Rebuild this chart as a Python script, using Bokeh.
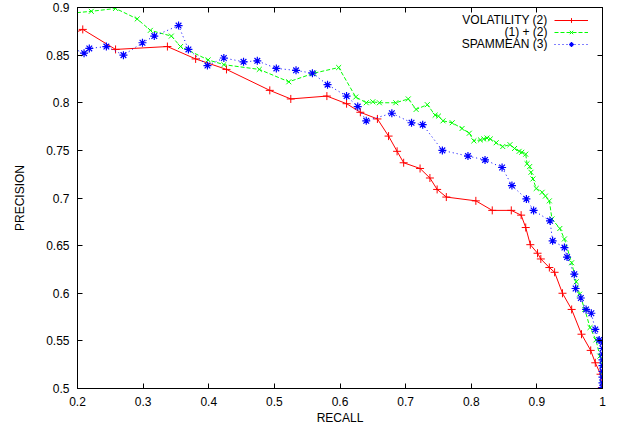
from bokeh.plotting import figure
from bokeh.models import Range1d, LinearAxis, FixedTicker, Legend, LegendItem, Label
from bokeh.embed import file_html
from bokeh.resources import INLINE

# ---- data ----
vol_recall = [0.190, 0.208, 0.258, 0.337, 0.380, 0.427, 0.493, 0.525, 0.580, 0.610,
              0.631, 0.657, 0.674, 0.687, 0.697, 0.722, 0.737, 0.748, 0.762, 0.807,
              0.832, 0.861, 0.876, 0.883, 0.890, 0.901, 0.906, 0.919, 0.927, 0.939,
              0.953, 0.968, 0.982, 0.989, 0.997, 0.999]
vol_precision = [0.872, 0.877, 0.856, 0.859, 0.846, 0.835, 0.813, 0.804, 0.807, 0.799,
                 0.790, 0.783, 0.765, 0.749, 0.737, 0.731, 0.721, 0.709, 0.701, 0.697,
                 0.687, 0.687, 0.682, 0.669, 0.651, 0.642, 0.636, 0.627, 0.622, 0.600,
                 0.583, 0.557, 0.540, 0.527, 0.515, 0.501]

comb_recall = [0.190, 0.221, 0.258, 0.291, 0.311, 0.343, 0.357, 0.399, 0.423, 0.477,
               0.522, 0.560, 0.598, 0.624, 0.640, 0.650, 0.660, 0.685, 0.704, 0.716,
               0.733, 0.745, 0.750, 0.757, 0.771, 0.786, 0.797, 0.804, 0.814, 0.819,
               0.824, 0.829, 0.838, 0.848, 0.859, 0.866, 0.873, 0.877, 0.883, 0.885,
               0.889, 0.891, 0.894, 0.899, 0.908, 0.913, 0.919, 0.923, 0.935, 0.942,
               0.953, 0.960, 0.965, 0.973, 0.981, 0.990, 0.996, 1.000, 1.000, 1.000]
comb_precision = [0.894, 0.896, 0.899, 0.888, 0.876, 0.870, 0.859, 0.845, 0.840, 0.835,
                  0.822, 0.831, 0.837, 0.806, 0.800, 0.801, 0.800, 0.800, 0.804, 0.793,
                  0.798, 0.787, 0.786, 0.781, 0.779, 0.773, 0.768, 0.760, 0.761, 0.762,
                  0.763, 0.762, 0.758, 0.754, 0.756, 0.752, 0.749, 0.748, 0.746, 0.736,
                  0.733, 0.727, 0.720, 0.710, 0.706, 0.702, 0.697, 0.678, 0.668, 0.657,
                  0.632, 0.612, 0.599, 0.583, 0.564, 0.551, 0.534, 0.525, 0.515, 0.505]

spam_recall = [0.190, 0.210, 0.218, 0.244, 0.270, 0.299, 0.317, 0.354, 0.369, 0.398,
               0.423, 0.453, 0.474, 0.503, 0.533, 0.558, 0.581, 0.610, 0.627, 0.640,
               0.679, 0.709, 0.726, 0.756, 0.795, 0.821, 0.847, 0.862, 0.884, 0.895,
               0.920, 0.924, 0.942, 0.946, 0.957, 0.959, 0.967, 0.975, 0.983, 0.989,
               0.995, 1.000, 1.000, 1.000, 1.000, 1.000, 1.000, 1.000, 1.000, 1.000]
spam_precision = [0.858, 0.852, 0.857, 0.859, 0.850, 0.863, 0.870, 0.881, 0.856, 0.839,
                  0.847, 0.843, 0.844, 0.836, 0.834, 0.831, 0.819, 0.807, 0.796, 0.781,
                  0.789, 0.779, 0.777, 0.750, 0.744, 0.740, 0.732, 0.713, 0.699, 0.687,
                  0.676, 0.655, 0.648, 0.638, 0.620, 0.605, 0.595, 0.583, 0.579, 0.562,
                  0.551, 0.548, 0.542, 0.536, 0.530, 0.524, 0.518, 0.512, 0.506, 0.501]

series_names = ["VOLATILITY (2)", "(1) + (2)", "SPAMMEAN (3)"]

x_ticks = [0.2, 0.3, 0.4, 0.5, 0.6, 0.7, 0.8, 0.9, 1.0]
x_tick_labels = ["0.2", "0.3", "0.4", "0.5", "0.6", "0.7", "0.8", "0.9", "1"]
y_ticks = [0.5, 0.55, 0.6, 0.65, 0.7, 0.75, 0.8, 0.85, 0.9]
y_tick_labels = ["0.5", "0.55", "0.6", "0.65", "0.7", "0.75", "0.8", "0.85", "0.9"]

FONT = "Liberation Sans"

p = figure(width=621, height=427,
           x_range=Range1d(0.2, 1.0), y_range=Range1d(0.5, 0.9),
           output_backend="svg", toolbar_location=None,
           min_border_left=77, min_border_right=19,
           min_border_top=7, min_border_bottom=39)

p.xgrid.visible = False
p.ygrid.visible = False
p.outline_line_color = "black"
p.outline_line_width = 1
p.background_fill_color = "white"
p.border_fill_color = "white"

xa = p.xaxis[0]
ya = p.yaxis[0]
xa.ticker = FixedTicker(ticks=x_ticks)
ya.ticker = FixedTicker(ticks=y_ticks)
xa.major_label_overrides = dict(zip(x_ticks, x_tick_labels))
ya.major_label_overrides = dict(zip(y_ticks, y_tick_labels))
xa.axis_label = "RECALL"
ya.axis_label = "PRECISION"
xa.major_label_standoff = 8
ya.major_label_standoff = 8
xa.axis_label_standoff = 2
ya.axis_label_standoff = 16

for ax in (xa, ya):
    ax.major_tick_in = 5
    ax.major_tick_out = 0
    ax.minor_tick_line_color = None
    ax.axis_line_color = "black"
    ax.major_tick_line_color = "black"
    ax.major_label_text_font = FONT
    ax.major_label_text_font_size = "12px"
    ax.major_label_text_color = "black"
    ax.axis_label_text_font = FONT
    ax.axis_label_text_font_size = "12px"
    ax.axis_label_text_font_style = "normal"
    ax.axis_label_text_color = "black"

# mirrored tick marks (top / right), without labels
top = LinearAxis(ticker=FixedTicker(ticks=x_ticks), major_label_text_font_size="1px",
                 major_label_text_color=None, major_label_standoff=0,
                 major_tick_in=5, major_tick_out=0,
                 minor_tick_line_color=None, axis_line_color="black")
right = LinearAxis(ticker=FixedTicker(ticks=y_ticks), major_label_text_font_size="1px",
                   major_label_text_color=None, major_label_standoff=0,
                   major_tick_in=5, major_tick_out=0,
                   minor_tick_line_color=None, axis_line_color="black")
p.add_layout(top, "above")
p.add_layout(right, "right")

RED, GREEN, BLUE = "#ff0000", "#00ff00", "#0000ff"

l1 = p.line(vol_recall, vol_precision, line_color=RED, line_width=1)
m1 = p.scatter(vol_recall, vol_precision, marker="cross", size=8, line_color=RED, line_width=1)
l2 = p.line(comb_recall, comb_precision, line_color=GREEN, line_width=1, line_dash="4 2")
m2 = p.scatter(comb_recall, comb_precision, marker="x", size=7, line_color=GREEN, line_width=1)
l3 = p.line(spam_recall, spam_precision, line_color=BLUE, line_width=1, line_dash="1 3")
m3 = p.scatter(spam_recall, spam_precision, marker="asterisk", size=8, line_color=BLUE, line_width=1.2)

legend = Legend(items=[LegendItem(label=" ", renderers=[l1, m1], index=0),
                       LegendItem(label=" ", renderers=[l2, m2], index=0),
                       LegendItem(label=" ", renderers=[l3, m3], index=0)],
                location=(477, 338.5), glyph_width=34, glyph_height=12,
                label_height=12, label_width=0, label_standoff=0,
                label_text_font_size="1px", label_text_color=None,
                padding=0, margin=0, spacing=0,
                border_line_alpha=0, background_fill_alpha=0)
p.add_layout(legend)

for name, yy in zip(series_names, [369, 357, 345]):
    p.add_layout(Label(x=470, y=yy, x_units="screen", y_units="screen", text=name,
                       text_align="right", text_baseline="middle", text_font=FONT,
                       text_font_size="12px", text_color="black"))

open("out.html", "w").write(file_html(p, INLINE))
